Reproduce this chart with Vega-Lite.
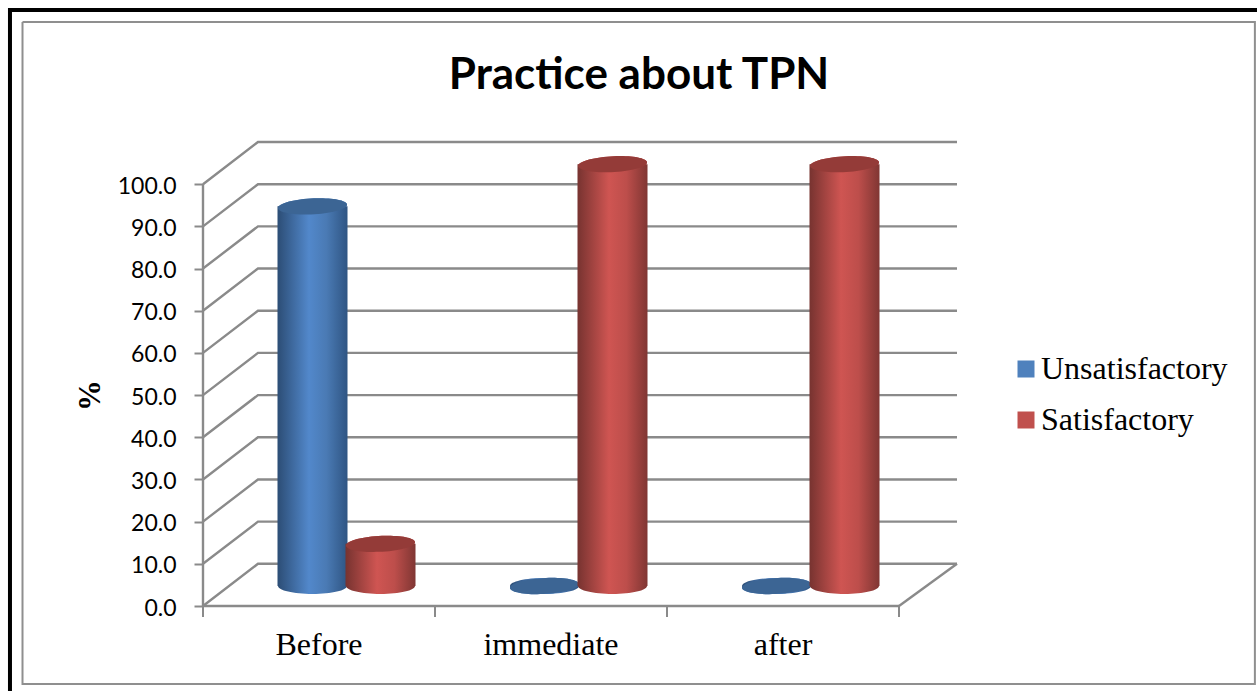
{
"$schema":"https://vega.github.io/schema/vega-lite/v6.json",
"autosize":"none",
"padding":{"left":203,"top":142,"right":300,"bottom":85},
"width":754,"height":464,
"background":"white",
"title":{"text":"Practice about TPN","font":"Lato","fontSize":44,"fontWeight":"bold","color":"black","anchor":"middle","frame":"group","dx":59,"baseline":"alphabetic","offset":-131},
"config":{"view":{"stroke":null}},
"datasets":{
"bars":[
{"time":"Before","group":"Unsatisfactory","value":90},
{"time":"Before","group":"Satisfactory","value":10},
{"time":"immediate","group":"Unsatisfactory","value":0},
{"time":"immediate","group":"Satisfactory","value":100},
{"time":"after","group":"Unsatisfactory","value":0},
{"time":"after","group":"Satisfactory","value":100}],
"wall":[
{"line":"axis","seq":0,"u":0,"v":0},{"line":"axis","seq":1,"u":0,"v":100},
{"line":"floor","seq":0,"u":3,"v":0},{"line":"floor","seq":1,"u":3.25,"v":10},
{"line":"g0","seq":0,"u":0,"v":0},{"line":"g0","seq":1,"u":0.237,"v":10},{"line":"g0","seq":2,"u":3.25,"v":10},
{"line":"g10","seq":0,"u":0,"v":10},{"line":"g10","seq":1,"u":0.237,"v":20},{"line":"g10","seq":2,"u":3.25,"v":20},
{"line":"g20","seq":0,"u":0,"v":20},{"line":"g20","seq":1,"u":0.237,"v":30},{"line":"g20","seq":2,"u":3.25,"v":30},
{"line":"g30","seq":0,"u":0,"v":30},{"line":"g30","seq":1,"u":0.237,"v":40},{"line":"g30","seq":2,"u":3.25,"v":40},
{"line":"g40","seq":0,"u":0,"v":40},{"line":"g40","seq":1,"u":0.237,"v":50},{"line":"g40","seq":2,"u":3.25,"v":50},
{"line":"g50","seq":0,"u":0,"v":50},{"line":"g50","seq":1,"u":0.237,"v":60},{"line":"g50","seq":2,"u":3.25,"v":60},
{"line":"g60","seq":0,"u":0,"v":60},{"line":"g60","seq":1,"u":0.237,"v":70},{"line":"g60","seq":2,"u":3.25,"v":70},
{"line":"g70","seq":0,"u":0,"v":70},{"line":"g70","seq":1,"u":0.237,"v":80},{"line":"g70","seq":2,"u":3.25,"v":80},
{"line":"g80","seq":0,"u":0,"v":80},{"line":"g80","seq":1,"u":0.237,"v":90},{"line":"g80","seq":2,"u":3.25,"v":90},
{"line":"g90","seq":0,"u":0,"v":90},{"line":"g90","seq":1,"u":0.237,"v":100},{"line":"g90","seq":2,"u":3.25,"v":100},
{"line":"g100","seq":0,"u":0,"v":100},{"line":"g100","seq":1,"u":0.237,"v":110},{"line":"g100","seq":2,"u":3.25,"v":110}],
"frameInner":[
{"seq":0,"u":-0.778,"v":138.45},{"seq":1,"u":4.534,"v":138.45},{"seq":2,"u":4.534,"v":-18.5},{"seq":3,"u":-0.778,"v":-18.5},{"seq":4,"u":-0.778,"v":138.45}],
"frameOuter":[
{"seq":0,"u":-0.832,"v":-21},{"seq":1,"u":-0.832,"v":141.3},{"seq":2,"u":4.6,"v":141.3}]
},
"layer":[
{"layer":[
{"data":{"name":"wall"},"mark":{"type":"line","stroke":"#8a8a8a","strokeWidth":2.4,"clip":false},
"encoding":{"x":{"field":"u","type":"quantitative","axis":null,"scale":{"domain":[0,3.25],"nice":false,"zero":false}},
"y":{"field":"v","type":"quantitative","title":"%","scale":{"domain":[0,110],"nice":false},
"axis":{"values":[0,10,20,30,40,50,60,70,80,90,100],"format":".1f","grid":false,"domain":false,"tickColor":"#8a8a8a","tickWidth":2,"tickSize":9,"labelFont":"Lato","labelFontSize":23,"labelColor":"black","labelPadding":18,"labelOffset":2,"title":"%","titleFont":"Liberation Serif","titleFontSize":31,"titleFontWeight":"bold","titleColor":"black","titleX":-97,"titleY":253}},
"detail":{"field":"line"},"order":{"field":"seq"}}},
{"data":{"name":"frameInner"},"mark":{"type":"line","stroke":"#8f8f8f","strokeWidth":2,"clip":false},
"encoding":{"x":{"field":"u","type":"quantitative"},"y":{"field":"v","type":"quantitative"},"order":{"field":"seq"}}},
{"data":{"name":"frameOuter"},"mark":{"type":"line","stroke":"black","strokeWidth":4,"clip":false},
"encoding":{"x":{"field":"u","type":"quantitative"},"y":{"field":"v","type":"quantitative"},"order":{"field":"seq"}}}
]},
{"data":{"name":"bars"},
"encoding":{
"x":{"field":"time","type":"nominal","sort":["Before","immediate","after"],"title":null,
"scale":{"range":[0,696],"paddingInner":0,"paddingOuter":0},
"axis":{"orient":"bottom","translate":0,"labelAngle":0,"labelFont":"Liberation Serif","labelFontSize":32,"labelColor":"black","labelPadding":13,"tickBand":"extent","tickSize":11,"tickColor":"#8a8a8a","tickWidth":2,"domainColor":"#8a8a8a","domainWidth":2.4,"grid":false}},
"xOffset":{"field":"group","type":"nominal","sort":["Unsatisfactory","Satisfactory"],"scale":{"domain":["Unsatisfactory","Satisfactory"],"range":[75.5,211.5],"paddingInner":0,"paddingOuter":0}},
"y":{"field":"value","type":"quantitative","stack":null}
},
"layer":[
{"mark":{"type":"point","filled":true,"opacity":1,"size":4761,"yOffset":-20,"shape":"M-1,0.04 A1,0.23 -3 1 1 1,-0.04 A1,0.23 -3 1 1 -1,0.04 Z"},
"encoding":{"color":{"field":"group","type":"nominal","sort":["Unsatisfactory","Satisfactory"],
"scale":{"domain":["Unsatisfactory","Satisfactory"],"range":["#4f81bd","#c0504d"]},
"legend":{"title":null,"orient":"none","legendX":807,"legendY":211,"symbolType":"square","symbolSize":289,"symbolStrokeWidth":0,"symbolOpacity":1,"labelFont":"Liberation Serif","labelFontSize":32,"labelColor":"black","labelOffset":-1,"rowPadding":19,"labelLimit":300}}}},
{"transform":[{"filter":"datum.group==='Unsatisfactory'"}],"encoding":{"y":{"datum":0}},"mark":{"type":"point","filled":true,"opacity":1,"size":4761,"yOffset":-20,"shape":"M-1,0 A1,0.23 0 1 1 1,0 A1,0.23 0 1 1 -1,0 Z","fill":{"gradient":"linear","x1":0,"x2":1,"y1":0,"y2":0,"stops":[{"offset":0,"color":"#2c4d75"},{"offset":0.45,"color":"#5288cb"},{"offset":0.7,"color":"#4a7ab4"},{"offset":1,"color":"#2f5583"}]}}},
{"transform":[{"filter":"datum.group==='Unsatisfactory'"}],"encoding":{"y2":{"datum":0}},"mark":{"type":"bar","size":70,"yOffset":-20,"y2Offset":-20,"fill":{"gradient":"linear","x1":0,"x2":1,"y1":0,"y2":0,"stops":[{"offset":0,"color":"#2c4d75"},{"offset":0.45,"color":"#5288cb"},{"offset":0.7,"color":"#4a7ab4"},{"offset":1,"color":"#2f5583"}]}}},
{"transform":[{"filter":"datum.group==='Unsatisfactory'"}],"mark":{"type":"point","filled":true,"opacity":1,"size":4761,"yOffset":-20,"fill":"#3c6594","shape":"M-1,0.04 A1,0.23 -3 1 1 1,-0.04 A1,0.23 -3 1 1 -1,0.04 Z"}},
{"transform":[{"filter":"datum.group==='Satisfactory'"}],"encoding":{"y":{"datum":0}},"mark":{"type":"point","filled":true,"opacity":1,"size":4761,"yOffset":-20,"shape":"M-1,0 A1,0.23 0 1 1 1,0 A1,0.23 0 1 1 -1,0 Z","fill":{"gradient":"linear","x1":0,"x2":1,"y1":0,"y2":0,"stops":[{"offset":0,"color":"#773330"},{"offset":0.45,"color":"#cf5552"},{"offset":0.7,"color":"#bd4e4b"},{"offset":1,"color":"#803633"}]}}},
{"transform":[{"filter":"datum.group==='Satisfactory'"}],"encoding":{"y2":{"datum":0}},"mark":{"type":"bar","size":70,"yOffset":-20,"y2Offset":-20,"fill":{"gradient":"linear","x1":0,"x2":1,"y1":0,"y2":0,"stops":[{"offset":0,"color":"#773330"},{"offset":0.45,"color":"#cf5552"},{"offset":0.7,"color":"#bd4e4b"},{"offset":1,"color":"#803633"}]}}},
{"transform":[{"filter":"datum.group==='Satisfactory'"}],"mark":{"type":"point","filled":true,"opacity":1,"size":4761,"yOffset":-20,"fill":"#943b38","shape":"M-1,0.04 A1,0.23 -3 1 1 1,-0.04 A1,0.23 -3 1 1 -1,0.04 Z"}}
]}
],
"resolve":{"scale":{"x":"independent"},"axis":{"x":"independent"}}
}
